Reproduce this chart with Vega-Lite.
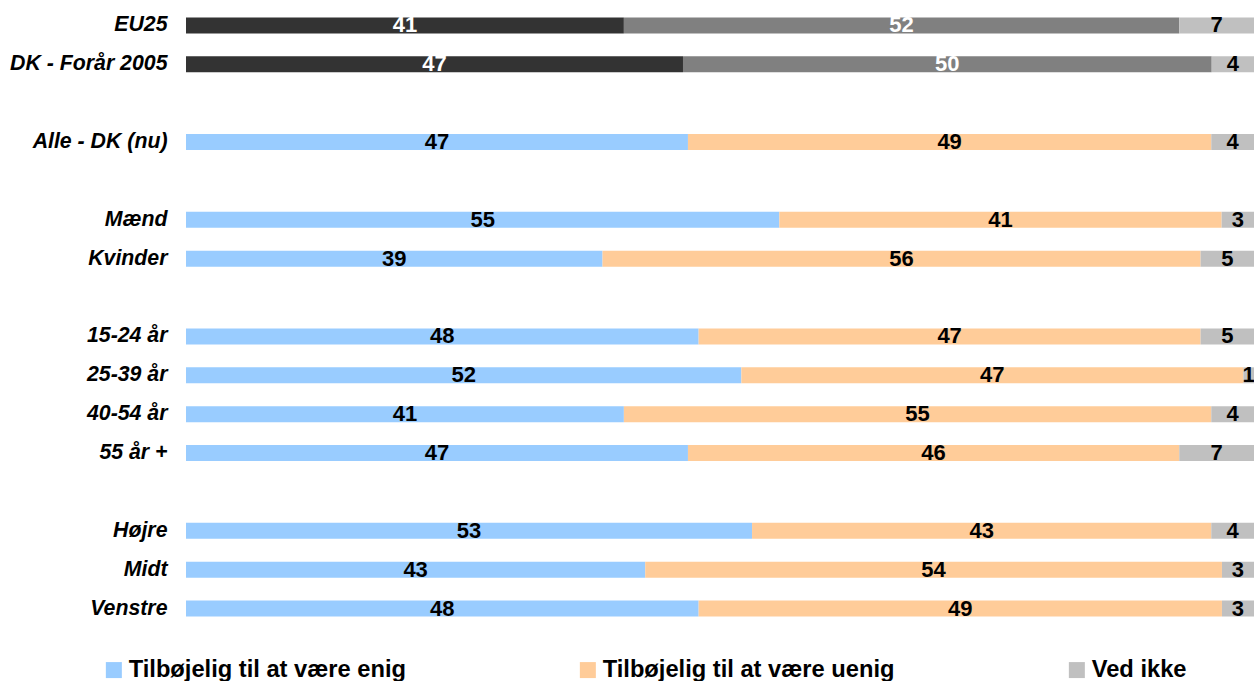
{
  "$schema": "https://vega.github.io/schema/vega-lite/v6.json",
  "autosize": {"type": "none"},
  "padding": {"left": 186, "top": 6, "right": 0, "bottom": 53},
  "width": 1068,
  "height": 622,
  "background": "white",
  "config": {"view": {"stroke": null}, "font": "Liberation Sans"},
  "data": {"values": [
    {"cat": "EU25", "resp": "Tilbøjelig til at være enig", "value": 41},
    {"cat": "EU25", "resp": "Tilbøjelig til at være uenig", "value": 52},
    {"cat": "EU25", "resp": "Ved ikke", "value": 7},
    {"cat": "DK - Forår 2005", "resp": "Tilbøjelig til at være enig", "value": 47},
    {"cat": "DK - Forår 2005", "resp": "Tilbøjelig til at være uenig", "value": 50},
    {"cat": "DK - Forår 2005", "resp": "Ved ikke", "value": 4},
    {"cat": "Alle - DK (nu)", "resp": "Tilbøjelig til at være enig", "value": 47},
    {"cat": "Alle - DK (nu)", "resp": "Tilbøjelig til at være uenig", "value": 49},
    {"cat": "Alle - DK (nu)", "resp": "Ved ikke", "value": 4},
    {"cat": "Mænd", "resp": "Tilbøjelig til at være enig", "value": 55},
    {"cat": "Mænd", "resp": "Tilbøjelig til at være uenig", "value": 41},
    {"cat": "Mænd", "resp": "Ved ikke", "value": 3},
    {"cat": "Kvinder", "resp": "Tilbøjelig til at være enig", "value": 39},
    {"cat": "Kvinder", "resp": "Tilbøjelig til at være uenig", "value": 56},
    {"cat": "Kvinder", "resp": "Ved ikke", "value": 5},
    {"cat": "15-24 år", "resp": "Tilbøjelig til at være enig", "value": 48},
    {"cat": "15-24 år", "resp": "Tilbøjelig til at være uenig", "value": 47},
    {"cat": "15-24 år", "resp": "Ved ikke", "value": 5},
    {"cat": "25-39 år", "resp": "Tilbøjelig til at være enig", "value": 52},
    {"cat": "25-39 år", "resp": "Tilbøjelig til at være uenig", "value": 47},
    {"cat": "25-39 år", "resp": "Ved ikke", "value": 1},
    {"cat": "40-54 år", "resp": "Tilbøjelig til at være enig", "value": 41},
    {"cat": "40-54 år", "resp": "Tilbøjelig til at være uenig", "value": 55},
    {"cat": "40-54 år", "resp": "Ved ikke", "value": 4},
    {"cat": "55 år +", "resp": "Tilbøjelig til at være enig", "value": 47},
    {"cat": "55 år +", "resp": "Tilbøjelig til at være uenig", "value": 46},
    {"cat": "55 år +", "resp": "Ved ikke", "value": 7},
    {"cat": "Højre", "resp": "Tilbøjelig til at være enig", "value": 53},
    {"cat": "Højre", "resp": "Tilbøjelig til at være uenig", "value": 43},
    {"cat": "Højre", "resp": "Ved ikke", "value": 4},
    {"cat": "Midt", "resp": "Tilbøjelig til at være enig", "value": 43},
    {"cat": "Midt", "resp": "Tilbøjelig til at være uenig", "value": 54},
    {"cat": "Midt", "resp": "Ved ikke", "value": 3},
    {"cat": "Venstre", "resp": "Tilbøjelig til at være enig", "value": 48},
    {"cat": "Venstre", "resp": "Tilbøjelig til at være uenig", "value": 49},
    {"cat": "Venstre", "resp": "Ved ikke", "value": 3}
  ]},
  "transform": [
    {"calculate": "indexof(['Tilbøjelig til at være enig','Tilbøjelig til at være uenig','Ved ikke'], datum.resp)", "as": "k"},
    {"calculate": "datum.cat === 'EU25' || datum.cat === 'DK - Forår 2005'", "as": "ref"},
    {"stack": "value", "groupby": ["cat"], "sort": [{"field": "k", "order": "ascending"}], "offset": "normalize", "as": ["x0", "x1"]},
    {"calculate": "(datum.x0 + datum.x1) / 2", "as": "xm"}
  ],
  "encoding": {
    "y": {
      "field": "cat",
      "type": "nominal",
      "scale": {
        "domain": ["EU25", "DK - Forår 2005", " ", "Alle - DK (nu)", "  ", "Mænd", "Kvinder", "   ", "15-24 år", "25-39 år", "40-54 år", "55 år +", "    ", "Højre", "Midt", "Venstre"],
        "paddingInner": 0.59,
        "paddingOuter": 0.295
      },
      "axis": {
        "title": null,
        "domain": false,
        "ticks": false,
        "labelPadding": 19,
        "labelFontSize": 21.3,
        "labelFontWeight": "bold",
        "labelFontStyle": "italic",
        "labelColor": "black",
        "labelFont": "Liberation Sans"
      }
    }
  },
  "layer": [
    {
      "mark": {"type": "bar"},
      "encoding": {
        "x": {"field": "x0", "type": "quantitative", "scale": {"domain": [0, 1], "nice": false, "zero": true}, "axis": null},
        "x2": {"field": "x1"},
        "color": {
          "field": "resp",
          "type": "nominal",
          "scale": {
            "domain": ["Tilbøjelig til at være enig", "Tilbøjelig til at være uenig", "Ved ikke"],
            "range": ["#99ccff", "#ffcc99", "#c0c0c0"]
          },
          "condition": [
            {"test": "datum.ref && datum.k === 0", "value": "#333333"},
            {"test": "datum.ref && datum.k === 1", "value": "#808080"}
          ],
          "legend": {
            "title": null,
            "orient": "none",
            "legendX": -84,
            "legendY": 652,
            "direction": "horizontal",
            "columns": 3,
            "gridAlign": "each",
            "columnPadding": 170,
            "symbolType": "square",
            "symbolSize": 256,
            "symbolStrokeWidth": 0,
            "symbolOpacity": 1,
            "labelOffset": 3,
            "labelFontSize": 23.7,
            "labelFontWeight": "bold",
            "labelColor": "black",
            "labelFont": "Liberation Sans",
            "labelLimit": 500
          }
        }
      }
    },
    {
      "mark": {"type": "text", "font": "Liberation Sans", "fontSize": 22, "fontWeight": "bold", "baseline": "middle", "align": "center"},
      "encoding": {
        "x": {"field": "xm", "type": "quantitative"},
        "text": {"field": "value", "type": "quantitative"},
        "color": {
          "condition": {"test": "datum.ref && datum.k < 2", "value": "white"},
          "value": "black"
        }
      }
    }
  ]
}
